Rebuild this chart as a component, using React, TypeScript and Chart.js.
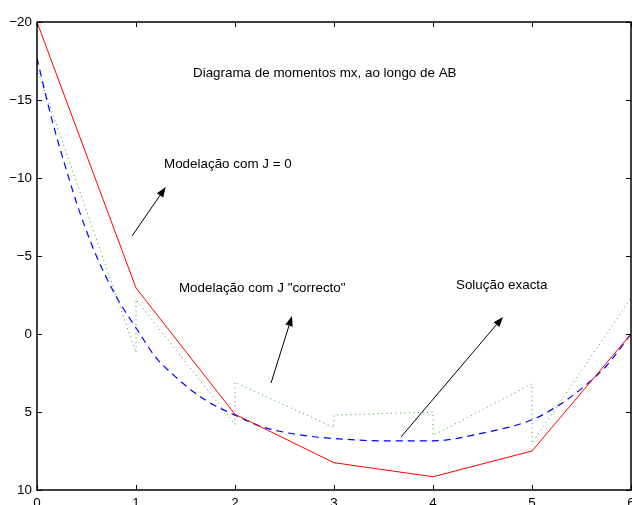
import React, { useEffect, useRef } from 'react';
import { Chart, registerables } from 'chart.js';

Chart.register(...registerables);

const xTicks = [0, 1, 2, 3, 4, 5, 6];
const yTicks = [-20, -15, -10, -5, 0, 5, 10];

// Modelação com J = 0 (red, solid)
const jZeroX = [0, 1, 2, 3, 4, 5, 6];
const jZeroY = [-20, -2.95, 5.15, 8.25, 9.15, 7.5, 0];

// Solução exacta (blue, dashed)
const exactX = [0, 0.1, 0.2, 0.3, 0.4, 0.5, 0.6, 0.8, 1.0, 1.2, 1.4, 1.6, 1.8, 2.0, 2.25, 2.5, 2.75, 3.0, 3.5, 4.0, 4.5, 5.0, 5.25, 5.5, 5.75, 6.0];
const exactY = [-17.7, -15.0, -12.6, -10.45, -8.4, -6.6, -5.0, -2.4, -0.4, 1.5, 2.75, 3.8, 4.6, 5.2, 5.9, 6.3, 6.55, 6.7, 6.85, 6.85, 6.35, 5.5, 4.65, 3.5, 2.05, 0];

// Modelação com J "correcto" (green, dotted) — piecewise per element
const jCorrectX = [0, 1, 1, 2, 2, 3, 3, 4, 4, 5, 5, 6];
const jCorrectY = [-17.0, 1.2, -2.2, 5.8, 3.1, 6.0, 5.2, 5.0, 6.5, 3.2, 7.0, -2.3];

// Annotations (data coordinates)
const noteTexts = [
  'Diagrama de momentos mx, ao longo de AB',
  'Modelação com J = 0',
  'Modelação com J "correcto"',
  'Solução exacta',
];
const noteX = [1.576, 1.283, 1.434, 4.232];
const noteY = [-16.47, -10.64, -2.71, -2.86];

const arrowFromX = [0.96, 2.364, 3.677];
const arrowFromY = [-6.28, 3.14, 6.6];
const arrowToX = [1.3, 2.576, 4.707];
const arrowToY = [-9.42, -1.15, -1.09];

const FONT = '"Liberation Sans", Arial, Helvetica, sans-serif';

const toXY = (xs: number[], ys: number[]) => xs.map((x, i) => ({ x, y: ys[i] }));

const boxPlugin = {
  id: 'boxAndNotes',
  afterDatasetsDraw(chart: any) {
    const { ctx, chartArea: a, scales } = chart;
    const xs = scales.x;
    const ys = scales.y;
    ctx.save();
    // inward ticks on all four sides
    ctx.strokeStyle = '#000';
    ctx.lineWidth = 1;
    ctx.beginPath();
    xTicks.forEach((v) => {
      const px = Math.round(xs.getPixelForValue(v)) + 0.5;
      ctx.moveTo(px, a.bottom);
      ctx.lineTo(px, a.bottom - 5);
      ctx.moveTo(px, a.top);
      ctx.lineTo(px, a.top + 5);
    });
    yTicks.forEach((v) => {
      const py = Math.round(ys.getPixelForValue(v)) + 0.5;
      ctx.moveTo(a.left, py);
      ctx.lineTo(a.left + 5, py);
      ctx.moveTo(a.right, py);
      ctx.lineTo(a.right - 5, py);
    });
    ctx.stroke();
    // box
    ctx.lineWidth = 1.5;
    ctx.strokeRect(a.left, a.top, a.right - a.left, a.bottom - a.top);
    // texts
    ctx.fillStyle = '#000';
    ctx.font = '13.4px ' + FONT;
    ctx.textAlign = 'left';
    ctx.textBaseline = 'alphabetic';
    noteTexts.forEach((t, i) => {
      ctx.fillText(t, xs.getPixelForValue(noteX[i]), ys.getPixelForValue(noteY[i]));
    });
    // arrows
    ctx.lineWidth = 1;
    arrowFromX.forEach((_, i) => {
      const x0 = xs.getPixelForValue(arrowFromX[i]);
      const y0 = ys.getPixelForValue(arrowFromY[i]);
      const x1 = xs.getPixelForValue(arrowToX[i]);
      const y1 = ys.getPixelForValue(arrowToY[i]);
      const ang = Math.atan2(y1 - y0, x1 - x0);
      const L = 10;
      const W = 3.8;
      const bx = x1 - L * Math.cos(ang);
      const by = y1 - L * Math.sin(ang);
      ctx.beginPath();
      ctx.moveTo(x0, y0);
      ctx.lineTo(bx, by);
      ctx.stroke();
      ctx.beginPath();
      ctx.moveTo(x1, y1);
      ctx.lineTo(bx + W * Math.sin(ang), by - W * Math.cos(ang));
      ctx.lineTo(bx - W * Math.sin(ang), by + W * Math.cos(ang));
      ctx.closePath();
      ctx.fill();
    });
    ctx.restore();
  },
};

export default function App() {
  const ref = useRef<HTMLCanvasElement>(null);
  useEffect(() => {
    const chart = new Chart(ref.current as HTMLCanvasElement, {
      type: 'line',
      data: {
        datasets: [
          {
            label: 'Modelação com J = 0',
            data: toXY(jZeroX, jZeroY),
            borderColor: '#ff0000',
            borderWidth: 1,
            pointRadius: 0,
            tension: 0,
            fill: false,
          },
          {
            label: 'Solução exacta',
            data: toXY(exactX, exactY),
            borderColor: '#0000ff',
            borderWidth: 1.2,
            borderDash: [7, 5],
            pointRadius: 0,
            cubicInterpolationMode: 'monotone',
            fill: false,
          },
          {
            label: 'Modelação com J "correcto"',
            data: toXY(jCorrectX, jCorrectY),
            borderColor: 'rgb(40,160,40)',
            borderWidth: 1,
            borderDash: [1, 3.5],
            pointRadius: 0,
            tension: 0,
            fill: false,
          },
        ],
      },
      options: {
        responsive: false,
        animation: false,
        events: [],
        layout: { autoPadding: false, padding: { top: 22, right: 1, left: 0, bottom: 0 } },
        plugins: { legend: { display: false }, tooltip: { enabled: false }, title: { display: false } },
        scales: {
          x: {
            type: 'linear',
            min: 0,
            max: 6,
            grid: { display: false, drawTicks: false },
            border: { display: false },
            afterFit: (s: any) => {
              s.height = 35;
              s.paddingLeft = 0;
              s.paddingRight = 0;
            },
            afterBuildTicks: (s: any) => {
              s.ticks = xTicks.map((v) => ({ value: v }));
            },
            ticks: {
              color: '#000',
              padding: 5,
              maxRotation: 0,
              autoSkip: false,
              font: { family: FONT, size: 13.4 },
              callback: (v: any) => String(v),
            },
          },
          y: {
            type: 'linear',
            reverse: true,
            min: -20,
            max: 10,
            grid: { display: false, drawTicks: false },
            border: { display: false },
            afterFit: (s: any) => {
              s.width = 37;
              s.paddingTop = 0;
              s.paddingBottom = 0;
            },
            afterBuildTicks: (s: any) => {
              s.ticks = yTicks.map((v) => ({ value: v }));
            },
            ticks: {
              color: '#000',
              padding: 5,
              autoSkip: false,
              font: { family: FONT, size: 13.4 },
              callback: (v: any) => (v < 0 ? '\u2212' + Math.abs(v) : String(v)),
            },
          },
        },
      },
      plugins: [boxPlugin],
    } as any);
    return () => chart.destroy();
  }, []);
  return (
    <div
      style={{ position: 'absolute', left: 0, top: 0, width: 632, height: 505, overflow: 'hidden', background: '#fff' }}
    >
      <canvas ref={ref} width={632} height={525} style={{ display: 'block' }} />
    </div>
  );
}
